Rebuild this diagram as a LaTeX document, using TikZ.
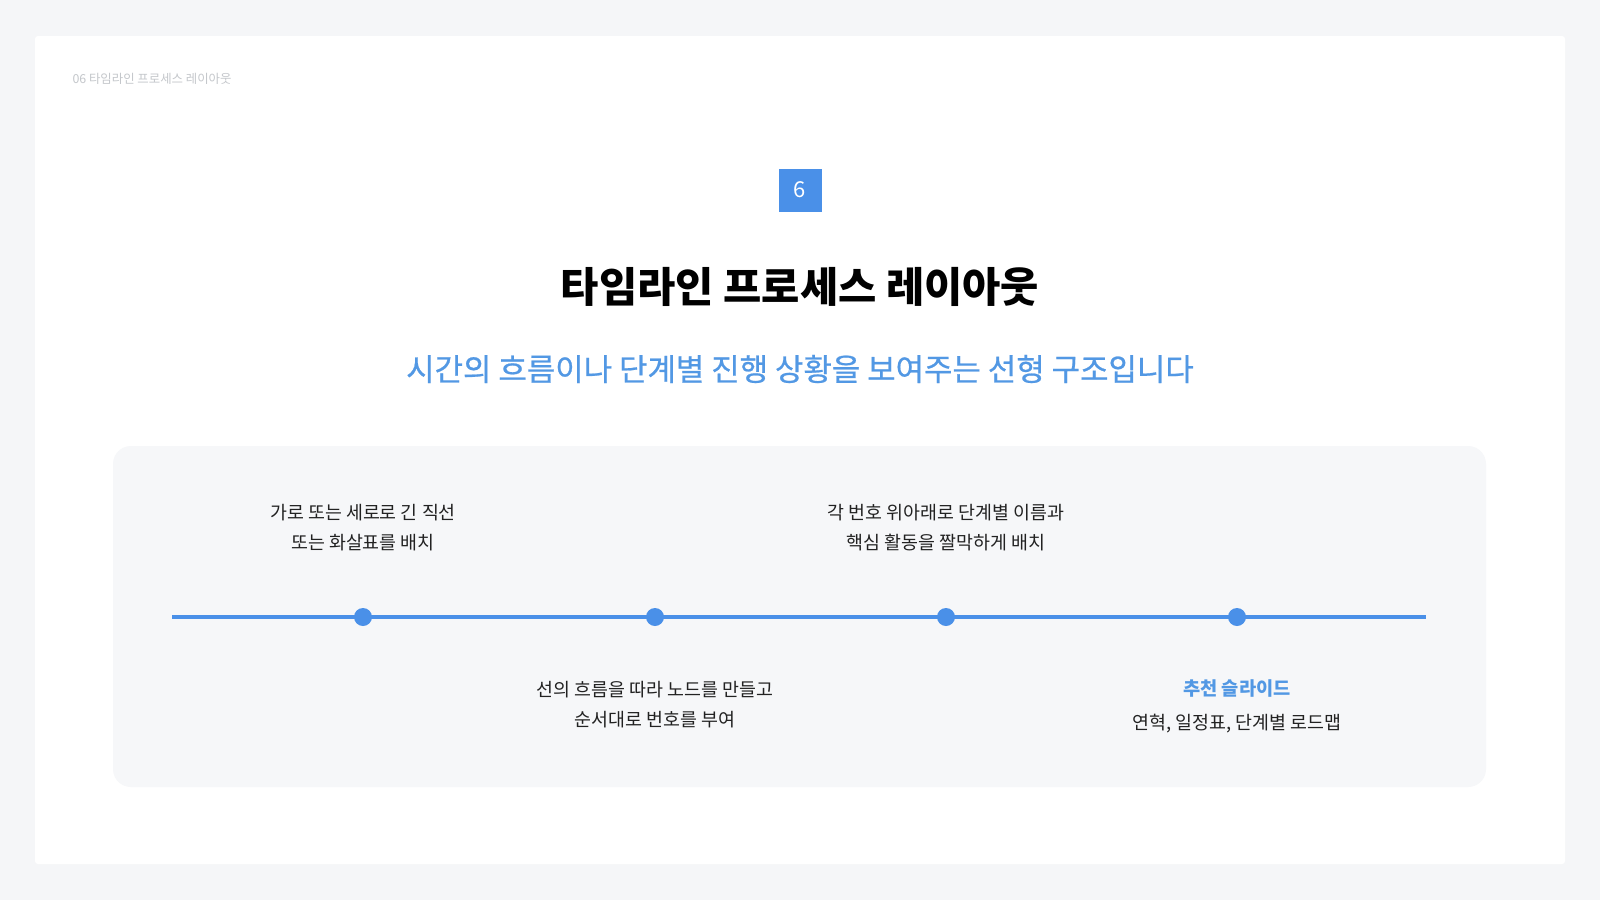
\documentclass[tikz,border=0pt]{standalone}
\usepackage{fontspec}
\setmainfont{Noto Sans CJK KR}
\newfontfamily\medfont[FakeBold=0.7]{Noto Sans CJK KR}
\usepackage{xcolor}
\usepackage{tikz}
\usetikzlibrary{positioning}

\definecolor{pagebg}{HTML}{F5F6F8}
\definecolor{panelbg}{HTML}{F6F7F9}
\definecolor{lineblue}{HTML}{4A90E8}
\definecolor{subblue}{HTML}{5298E4}
\definecolor{bodytext}{HTML}{222222}
\definecolor{headgray}{HTML}{C4C7CB}

\tikzset{
  stepdot/.style={circle, fill=lineblue, inner sep=0pt, minimum size=18pt},
  desc/.style={align=center, text=bodytext, font=\fontsize{18.4}{30}\selectfont},
}

\begin{document}
\begin{tikzpicture}[x=1pt, y=-1pt]
                % page and card
                \fill[pagebg] (0,0) rectangle (1600,900);
                \useasboundingbox (0,0) rectangle (1600,900);
                \fill[white, rounded corners=3pt] (35,36) rectangle (1565,864);
                % header label
                \node[anchor=west, text=headgray, font=\fontsize{12.4}{15}\selectfont] (head) at (69, 79) {06 타임라인 프로세스 레이아웃};
                % number badge
                \node[rectangle, fill=lineblue, minimum size=43pt, inner sep=0pt, text=white, font=\fontsize{22}{26}\selectfont] (badge) at (800, 190) {6};
                % title and subtitle
                \node[font=\bfseries\fontsize{41.6}{48}\selectfont, text=black] (title) at (800, 287) {타임라인 프로세스 레이아웃};
                \node[font=\medfont\fontsize{30.9}{36}\selectfont, text=subblue] (subtitle) at (800, 369) {시간의 흐름이나 단계별 진행 상황을 보여주는 선형 구조입니다};
                % panel
                \fill[panelbg, rounded corners=18pt] (113,446) rectangle (1486,787);
                % timeline
                \coordinate (lstart) at (172, 617);
                \coordinate (lend) at (1426, 617);
                \draw[lineblue, line width=4pt] (lstart) -- (lend);
                \node[stepdot] (d1) at (363, 617) {};
                \node[stepdot] (d2) at (655, 617) {};
                \node[stepdot] (d3) at (946, 617) {};
                \node[stepdot] (d4) at (1237, 617) {};
                % texts above and below
                \node[desc] (t1) at (363, 528) {가로 또는 세로로 긴 직선\\또는 화살표를 배치};
                \node[desc] (t2) at (655, 705) {선의 흐름을 따라 노드를 만들고\\순서대로 번호를 부여};
                \node[desc] (t3) at (946, 528) {각 번호 위아래로 단계별 이름과\\핵심 활동을 짤막하게 배치};
                \node[font=\bfseries\fontsize{18.7}{22}\selectfont, text=subblue] (rec) at (1237, 688) {추천 슬라이드};
                \node[desc] (t4) at (1237, 724) {연혁, 일정표, 단계별 로드맵};
            \end{tikzpicture}
\end{document}
